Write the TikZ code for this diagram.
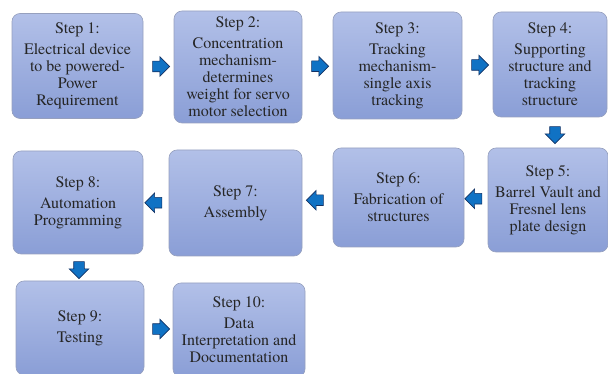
\documentclass[tikz,border=0pt]{standalone}
\usepackage{fontspec}
\setmainfont{texgyretermes-regular.otf}
\newfontfamily\tnr{texgyretermes-regular.otf}
\usetikzlibrary{shapes.arrows,calc}
\definecolor{boxtop}{RGB}{178,192,232}
\definecolor{boxbot}{RGB}{138,158,214}
\definecolor{boxline}{RGB}{150,160,190}
\definecolor{arrfill}{RGB}{16,114,196}
\definecolor{arrline}{RGB}{20,50,100}
\tikzset{
  stepbox/.style={draw=boxline, line width=0.6pt, rounded corners=8pt,
    top color=boxtop, bottom color=boxbot, inner sep=0pt,
    font=\tnr\fontsize{16}{17}\selectfont, align=center, text=black!85},
  blockarrow/.style={single arrow, draw=arrline, fill=arrfill, line width=0.6pt,
    inner sep=0pt, text width=0pt, text height=5pt, text depth=5pt, minimum height=17pt,
    single arrow head extend=4.5pt, single arrow head indent=0pt},
}
\newcommand{\steph}[1]{#1\\[4pt]}
\begin{document}
\begin{tikzpicture}[x=1pt,y=-1pt]
\useasboundingbox (0,0) rectangle (608,374);
\node[stepbox, minimum width=131pt, minimum height=105pt] (b1) at (77.5,66) {\steph{Step 1:}Electrical device\\to be powered-\\Power\\Requirement};
\node[stepbox, minimum width=128pt, minimum height=112pt] (b2) at (238,67) {\steph{Step 2:}Concentration\\mechanism-\\determines\\weight for servo\\motor selection};
\node[stepbox, minimum width=129pt, minimum height=107pt] (b3) at (397.5,65.5) {\steph{Step 3:}Tracking\\mechanism-\\single axis\\tracking};
\node[stepbox, minimum width=114pt, minimum height=105pt] (b4) at (550,64.5) {\steph{Step 4:}Supporting\\structure and\\tracking\\structure};
\node[stepbox, minimum width=120pt, minimum height=104pt] (b5) at (548,200) {\steph{Step 5:}Barrel Vault and\\Fresnel lens\\plate design};
\node[stepbox, minimum width=131pt, minimum height=99pt] (b6) at (398.5,197.5) {\steph{Step 6:}Fabrication of\\structures};
\node[stepbox, minimum width=133pt, minimum height=106pt] (b7) at (235.5,203) {\steph{Step 7:}Assembly};
\node[stepbox, minimum width=130pt, minimum height=103pt] (b8) at (78,202.5) {\steph{Step 8:}Automation\\Programming};
\node[stepbox, minimum width=128pt, minimum height=94pt] (b9) at (80,328) {\steph{Step 9:}Testing};
\node[stepbox, minimum width=132pt, minimum height=94pt] (b10) at (239,330) {\steph{Step 10:}Data\\Interpretation and\\Documentation};
\node[blockarrow] (a12) at ($(b1.east)!0.5!(b2.west)$) {};
\node[blockarrow] (a23) at ($(b2.east)!0.5!(b3.west)$) {};
\node[blockarrow] (a34) at ($(b3.east)!0.5!(b4.west)$) {};
\node[blockarrow, rotate=-90] (a45) at ($(b4.south)!0.5!(b5.north)+(6,0)$) {};
\node[blockarrow, rotate=180] (a56) at ($(b5.west)!0.5!(b6.east)$) {};
\node[blockarrow, rotate=180] (a67) at ($(b6.west)!0.5!(b7.east)$) {};
\node[blockarrow, rotate=180] (a78) at ($(b7.west)!0.5!(b8.east)$) {};
\node[blockarrow, rotate=-90] (a89) at ($(b8.south)!0.5!(b9.north)$) {};
\node[blockarrow] (a910) at ($(b9.east)!0.5!(b10.west)$) {};
\end{tikzpicture}
\end{document}
